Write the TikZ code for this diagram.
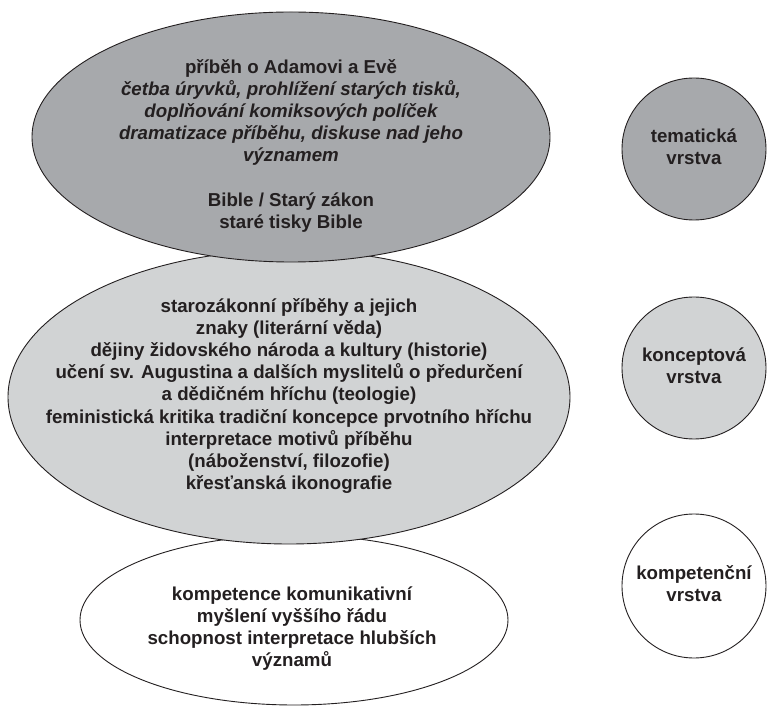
\documentclass[tikz,border=0pt]{standalone}
\usepackage{fontspec}
\setmainfont{Liberation Sans}
\definecolor{inkc}{HTML}{231F20}
\definecolor{darkfill}{HTML}{A7A9AC}
\definecolor{lightfill}{HTML}{D1D3D4}
% fixed height for the first line of every text block
\newcommand{\firstline}{\rule{0pt}{16pt}}
\begin{document}
\begin{tikzpicture}[x=1pt,y=-1pt,
  shell/.style={draw=inkc, line width=0.9pt},
  txt/.style={align=center, anchor=north, inner sep=0pt, text=inkc,
              font=\fontsize{18.7}{22.2}\selectfont\bfseries},
]
\useasboundingbox (0,0) rectangle (769,708);
% layers, drawn from the bottom up so the upper ones overlap
\draw[shell, fill=white]     (294,620) ellipse [x radius=214, y radius=85];
\draw[shell, fill=lightfill] (289,397) ellipse [x radius=281, y radius=147];
\draw[shell, fill=darkfill]  (291,137) ellipse [x radius=259, y radius=125];
% texts inside the layers
\node[txt] (theme) at (291,57) {\firstline příběh o Adamovi a Evě\\
  \itshape četba úryvků, prohlížení starých tisků,\\
  \itshape doplňování komiksových políček\\
  \itshape dramatizace příběhu, diskuse nad jeho\\
  \itshape významem\\[22.2pt]
  Bible / Starý zákon\\
  staré tisky Bible};
\node[txt] (concept) at (289,296) {\firstline starozákonní příběhy a jejich\\
  znaky (literární věda)\\
  dějiny židovského národa a kultury (historie)\\
  učení sv. Augustina a dalších myslitelů o předurčení\\
  a dědičném hříchu (teologie)\\
  feministická kritika tradiční koncepce prvotního hříchu\\
  interpretace motivů příběhu\\
  (náboženství, filozofie)\\
  křesťanská ikonografie};
\node[txt] (comp) at (292,584) {\firstline kompetence komunikativní\\
  myšlení vyššího řádu\\
  schopnost interpretace hlubších\\
  významů};
% layer labels on the right
\draw[shell, fill=darkfill]  (694,149) ellipse [x radius=72, y radius=71];
\draw[shell, fill=lightfill] (694,368) ellipse [x radius=72, y radius=71];
\draw[shell, fill=white]     (694,586) ellipse [x radius=72, y radius=72];
\node[txt] (l1) at (694,126) {\firstline tematická\\vrstva};
\node[txt] (l2) at (694,345) {\firstline konceptová\\vrstva};
\node[txt] (l3) at (694,563) {\firstline kompetenční\\vrstva};
\end{tikzpicture}
\end{document}
